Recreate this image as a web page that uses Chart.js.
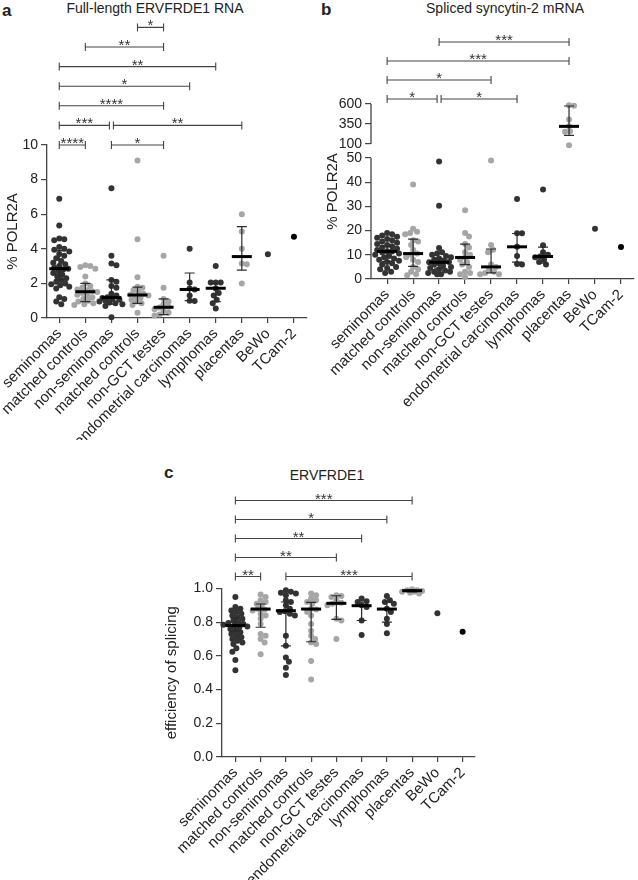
<!DOCTYPE html>
<html>
<head>
<meta charset="utf-8">
<script src="https://cdn.jsdelivr.net/npm/chart.js@4.4.1/dist/chart.umd.min.js"></script>
<style>
  body { margin: 0; width: 638px; height: 880px; background: #fff; position: relative; overflow: hidden;
         font-family: 'Liberation Sans', Arial, sans-serif; color: #222; }
  canvas, .lbl { position: absolute; }
  .letter { font-weight: bold; font-size: 17px; line-height: 20px; }
  .title { font-size: 14px; line-height: 16px; width: 300px; text-align: center; }
</style>
</head>
<body>
<div class="lbl letter" style="left:2px; top:1px;">a</div>
<div class="lbl title" style="left:5px; top:0px;">Full-length ERVFRDE1 RNA</div>
<div class="lbl letter" style="left:321px; top:0px;">b</div>
<div class="lbl title" style="left:355px; top:0px;">Spliced syncytin-2 mRNA</div>
<div class="lbl letter" style="left:164px; top:463px;">c</div>
<div class="lbl title" style="left:177px; top:467px;">ERVFRDE1</div>

<canvas id="chart_a" width="320" height="440" style="left:0; top:0;"></canvas>
<canvas id="chart_b" width="318" height="440" style="left:320px; top:0;"></canvas>
<canvas id="chart_c" width="330" height="440" style="left:150px; top:440px;"></canvas>

<script>
var categories = ['seminomas', 'matched controls', 'non-seminomas', 'matched controls', 'non-GCT testes',
                  'endometrial carcinomas', 'lymphomas', 'placentas', 'BeWo', 'TCam-2'];

// a - full-length ERVFRDE1 RNA (% POLR2A)
var fullPoints = [
  [6.9, 5.35, 4.6, 4.55, 4.5, 4.1, 4.0, 3.95, 3.85, 3.7, 3.6, 3.45, 3.3, 3.2, 3.1, 3.0, 2.9, 2.85, 2.8, 2.7,
   2.6, 2.5, 2.4, 2.3, 2.2, 2.1, 2.0, 1.95, 1.9, 1.8, 1.7, 1.2, 1.1, 0.95, 0.8],
  [3.05, 3.0, 2.95, 2.85, 2.4, 2.0, 1.85, 1.75, 1.65, 1.6, 1.55, 1.5, 1.45, 1.35, 1.3, 1.2, 1.1, 1.0, 0.95, 0.85, 0.8, 0.75],
  [7.5, 3.6, 3.15, 3.05, 2.2, 2.1, 1.85, 1.75, 1.4, 1.3, 1.2, 1.15, 1.1, 1.05, 1.0, 0.95, 0.9, 0.85, 0.8, 0.7, 0.05],
  [9.1, 4.55, 2.35, 1.8, 1.75, 1.6, 1.5, 1.4, 1.35, 1.3, 1.25, 1.15, 1.05, 0.95, 0.85, 0.75, 0.3],
  [3.6, 1.75, 1.1, 0.95, 0.8, 0.65, 0.6, 0.5, 0.4, 0.3, 0.2, 0.15],
  [4.0, 2.05, 1.7, 1.65, 1.3, 1.0, 0.98],
  [3.0, 2.05, 2.05, 2.05, 1.7, 1.45, 1.3, 1.05, 0.85, 0.55],
  [6.0, 5.0, 4.0, 3.15, 3.1, 2.0],
  [3.68],
  [4.7]
];
var fullMedian = [2.85, 1.52, 1.18, 1.33, 0.62, 1.65, 1.72, 3.55, null, null];
var fullLow = [2.2, 0.95, 0.8, 0.85, 0.2, 1.0, 0.95, 2.77, null, null];
var fullHigh = [3.9, 2.0, 2.2, 1.78, 1.1, 2.6, 2.0, 5.28, null, null];
var fullTicks = [0, 2, 4, 6, 8, 10];
// [from group, to group, row above the axis, stars]
var fullBrackets = [[0, 1, 0, '****'], [2, 4, 0, '*'], [0, 2, 1, '***'], [2, 7, 1, '**'], [0, 4, 2, '****'],
                    [0, 5, 3, '*'], [0, 6, 4, '**'], [1, 4, 5, '**'], [3, 4, 6, '*']];

// b - spliced syncytin-2 mRNA (% POLR2A), broken axis
var splicedPoints = [
  [19, 18.5, 18, 17.5, 17, 16.5, 16, 15.5, 15, 14.5, 14, 13.5, 13, 12.5, 12, 11.5, 11.4, 11, 10.5, 10,
   9.5, 9, 8.5, 8, 7.5, 7, 6.5, 6, 5, 4.5, 4, 3, 2.5],
  [39, 20.8, 19.5, 19, 18.5, 16, 15.5, 14, 12, 10.5, 10, 9, 8, 7, 5, 4, 3, 2, 1.5],
  [48.5, 30.3, 12.8, 11, 10.5, 10, 9.5, 9, 8.5, 8, 7.5, 7, 6.9, 6.5, 6, 5.5, 5, 4.5, 4, 3.5, 3, 3, 2.5, 2, 2],
  [28.4, 19, 17.6, 14.5, 13, 11, 10, 8.9, 8, 7, 6, 5, 3, 2.5, 2, 0.8],
  [49, 14, 12.1, 11, 6, 5, 4, 3, 2.5, 2, 2],
  [33, 18.9, 18.9, 13.3, 9.5, 6.2, 6.0],
  [37, 13.9, 11, 10, 9.3, 9, 8, 7, 6],
  [585, 578, 405, 320, 258, 252, 95],
  [20.8],
  [13.2]
];
var splicedMedian = [11.4, 10.5, 6.9, 8.9, 5.0, 13.3, 9.3, 320, null, null];
var splicedLow = [7.3, 5.2, 4.5, 5.9, 2.5, 7.0, 6.5, 207, null, null];
var splicedHigh = [13.5, 16.5, 8.5, 14.4, 12.4, 18.8, 13.2, 575, null, null];
var splicedTicks = [0, 10, 20, 30, 40, 50, 100, 350, 600];
var splicedBrackets = [[0, 2, 0, '*'], [2, 5, 0, '*'], [0, 4, 1, '*'], [0, 7, 2, '***'], [2, 7, 3, '***']];

// c - efficiency of splicing
var effPoints = [
  [0.95, 0.89, 0.88, 0.87, 0.86, 0.85, 0.84, 0.83, 0.82, 0.81, 0.80, 0.795, 0.79, 0.785, 0.78, 0.775, 0.77,
   0.76, 0.75, 0.74, 0.73, 0.72, 0.71, 0.70, 0.69, 0.68, 0.67, 0.645, 0.625, 0.575, 0.515],
  [0.965, 0.95, 0.93, 0.92, 0.91, 0.90, 0.88, 0.875, 0.87, 0.85, 0.84, 0.82, 0.79, 0.73, 0.72, 0.70, 0.68, 0.61],
  [0.99, 0.98, 0.975, 0.97, 0.96, 0.93, 0.92, 0.90, 0.88, 0.865, 0.86, 0.85, 0.84, 0.72, 0.66, 0.59, 0.565, 0.53, 0.487],
  [0.97, 0.96, 0.94, 0.93, 0.92, 0.91, 0.88, 0.875, 0.86, 0.84, 0.79, 0.75, 0.72, 0.70, 0.68, 0.67, 0.57, 0.46],
  [0.96, 0.955, 0.95, 0.93, 0.915, 0.91, 0.90, 0.82, 0.81, 0.70],
  [0.94, 0.925, 0.92, 0.90, 0.89, 0.81, 0.724],
  [0.955, 0.93, 0.92, 0.91, 0.88, 0.86, 0.82, 0.79, 0.734],
  [0.995, 0.99, 0.99, 0.985, 0.98, 0.98, 0.975, 0.97],
  [0.853],
  [0.744]
];
var effMedian = [0.78, 0.878, 0.868, 0.878, 0.912, 0.898, 0.878, 0.987, null, null];
var effLow = [0.745, 0.77, 0.659, 0.684, 0.817, 0.81, 0.80, 0.98, null, null];
var effHigh = [0.825, 0.908, 0.92, 0.918, 0.957, 0.92, 0.92, 0.992, null, null];
var effTicks = [0, 0.2, 0.4, 0.6, 0.8, 1.0];
var effBrackets = [[0, 1, 0, '**'], [2, 7, 0, '***'], [0, 4, 1, '**'], [0, 5, 2, '**'], [0, 6, 3, '*'], [0, 7, 4, '***']];

var DARK = '#333333', LIGHT = '#a6a6a6';
var groupColors = [DARK, LIGHT, DARK, LIGHT, LIGHT, DARK, DARK, LIGHT, DARK, '#000000'];
var AXIS = '#444444';

Chart.defaults.font.family = "'Liberation Sans', Arial, sans-serif";
Chart.defaults.color = '#222';

// axis break for panel b: 0-50 linear, 100-600 squeezed
function squash(v) {
  if (v <= 50) return v;
  if (v < 100) return 50 + 5.8 * (v - 50) / 50;
  return 55.8 + (v - 100) * 0.033;
}

class BrokenScale extends Chart.LinearScale {
  getPixelForValue(value) {
    return this.getPixelForDecimal(squash(value) / squash(this.max));
  }
}
BrokenScale.id = 'broken';
BrokenScale.defaults = {};
Chart.register(BrokenScale);

// compact beeswarm: x offsets (category units), kept within +-maxOff px,
// dots are allowed to overlap once there is no more room
function swarm(vals, toPx, pxPerX, gap, maxOff) {
  var placed = [], offs = [];
  var order = vals.map(function(v, i) { return i; });
  order.sort(function(a, b) { return vals[b] - vals[a]; });
  order.forEach(function(i) {
    var py = toPx(vals[i]), best = 0, bestD = -1;
    for (var k = 0; k < 100; k++) {
      var dx = (k % 2 ? 1 : -1) * Math.ceil(k / 2);
      if (Math.abs(dx) > maxOff) break;
      var d = Infinity;
      placed.forEach(function(p) {
        d = Math.min(d, Math.sqrt((p[0] - dx) * (p[0] - dx) + (p[1] - py) * (p[1] - py)));
      });
      if (d >= gap) { best = dx; break; }
      if (d > bestD + 0.5) { bestD = d; best = dx; }
    }
    placed.push([best, py]);
    offs[i] = best / pxPerX;
  });
  return offs;
}

var extrasPlugin = {
  id: 'extras',
  afterDatasetsDraw: function(chart, args, opts) {
    var ctx = chart.ctx, xs = chart.scales.x, ys = chart.scales.y, area = chart.chartArea;
    ctx.save();

    // broken y axis line
    if (opts.segments) {
      ctx.strokeStyle = AXIS;
      ctx.lineWidth = 1.3;
      ctx.beginPath();
      opts.segments.forEach(function(s) {
        ctx.moveTo(area.left, ys.getPixelForValue(s[0]));
        ctx.lineTo(area.left, ys.getPixelForValue(s[1]));
      });
      ctx.stroke();
    }

    // error bars + median
    opts.medians.forEach(function(m, i) {
      if (m == null) return;
      var px = xs.getPixelForValue(i);
      var lo = ys.getPixelForValue(opts.low[i]), hi = ys.getPixelForValue(opts.high[i]);
      ctx.strokeStyle = '#2b2b2b';
      ctx.lineWidth = 1.2;
      ctx.beginPath();
      ctx.moveTo(px, lo); ctx.lineTo(px, hi);
      ctx.moveTo(px - 5, lo); ctx.lineTo(px + 5, lo);
      ctx.moveTo(px - 5, hi); ctx.lineTo(px + 5, hi);
      ctx.stroke();
      var pm = ys.getPixelForValue(m);
      ctx.strokeStyle = '#000';
      ctx.lineWidth = 3;
      ctx.beginPath();
      ctx.moveTo(px - 10, pm); ctx.lineTo(px + 10, pm);
      ctx.stroke();
    });

    // significance brackets
    ctx.strokeStyle = '#444';
    ctx.fillStyle = '#333';
    ctx.lineWidth = 1.1;
    ctx.font = "15px 'Liberation Sans', Arial, sans-serif";
    ctx.textAlign = 'center';
    ctx.textBaseline = 'alphabetic';
    opts.brackets.forEach(function(b) {
      var shareL = opts.brackets.some(function(o) { return o !== b && o[2] === b[2] && o[1] === b[0]; });
      var shareR = opts.brackets.some(function(o) { return o !== b && o[2] === b[2] && o[0] === b[1]; });
      var x1 = xs.getPixelForValue(b[0]) + (shareL ? 2 : 0);
      var x2 = xs.getPixelForValue(b[1]) - (shareR ? 2 : 0);
      var y = area.top - opts.base - b[2] * opts.step;
      ctx.beginPath();
      ctx.moveTo(x1, y); ctx.lineTo(x2, y);
      ctx.moveTo(x1, y - 4); ctx.lineTo(x1, y + 4);
      ctx.moveTo(x2, y - 4); ctx.lineTo(x2, y + 4);
      ctx.stroke();
      ctx.fillText(b[3], (x1 + x2) / 2, y + 3);
    });
    ctx.restore();
  }
};

function makeChart(canvasId, cfg) {
  var datasets = cfg.points.map(function(vals, i) {
    var offs = swarm(vals, cfg.toPx, cfg.pxPerX, 5, 12);
    return {
      data: vals.map(function(v, k) { return {x: i + offs[k], y: v}; }),
      pointRadius: 3,
      pointBackgroundColor: groupColors[i],
      pointBorderColor: groupColors[i],
      pointBorderWidth: 0,
      clip: false
    };
  });

  return new Chart(document.getElementById(canvasId).getContext('2d'), {
    type: 'scatter',
    data: {datasets: datasets},
    options: {
      responsive: false,
      animation: false,
      events: [],
      layout: {padding: cfg.padding},
      plugins: {
        legend: {display: false},
        tooltip: {enabled: false},
        extras: {
          medians: cfg.medians, low: cfg.low, high: cfg.high,
          brackets: cfg.brackets, base: cfg.base, step: cfg.step, segments: cfg.segments
        }
      },
      scales: {
        x: {
          type: 'linear',
          min: cfg.xMin,
          max: cfg.xMax,
          afterBuildTicks: function(scale) {
            scale.ticks = categories.map(function(c, i) { return {value: i}; });
          },
          afterFit: function(scale) { scale.height = cfg.xHeight; },
          ticks: {
            autoSkip: false, minRotation: 45, maxRotation: 45, padding: 2,
            font: {size: 15},
            callback: function(v) { return categories[v]; }
          },
          grid: {drawOnChartArea: false, tickLength: 5, color: AXIS, lineWidth: 1.2},
          border: {color: AXIS, width: 1.3}
        },
        y: {
          type: cfg.yType,
          min: 0,
          max: cfg.yMax,
          afterBuildTicks: function(scale) {
            scale.ticks = cfg.yTicks.map(function(v) { return {value: v}; });
          },
          afterFit: function(scale) { scale.width = cfg.yWidth; },
          title: {display: true, text: cfg.yTitle, font: {size: 15}, color: '#222'},
          ticks: {font: {size: 14}, padding: 3, callback: cfg.yFormat},
          grid: {drawOnChartArea: false, tickLength: 6, color: AXIS, lineWidth: 1.2},
          border: {display: !cfg.segments, color: AXIS, width: 1.3}
        }
      }
    },
    plugins: [extrasPlugin]
  });
}

makeChart('chart_a', {
  points: fullPoints, medians: fullMedian, low: fullLow, high: fullHigh, brackets: fullBrackets,
  yTicks: fullTicks, yMax: 10, yType: 'linear', yTitle: '% POLR2A',
  yFormat: function(v) { return String(v); },
  toPx: function(v) { return v * 17.3; }, pxPerX: 26.1,
  xMin: -0.47, xMax: 9.5, padding: {top: 145, right: 13, left: 0, bottom: 0},
  yWidth: 47, xHeight: 122, base: 0, step: 19.6
});

makeChart('chart_b', {
  points: splicedPoints, medians: splicedMedian, low: splicedLow, high: splicedHigh, brackets: splicedBrackets,
  yTicks: splicedTicks, yMax: 600, yType: 'broken', yTitle: '% POLR2A',
  yFormat: function(v) { return String(v); },
  toPx: function(v) { return squash(v) * 2.42; }, pxPerX: 26.2,
  xMin: -0.62, xMax: 9.5, padding: {top: 104, right: 1, left: 0, bottom: 0},
  yWidth: 51, xHeight: 161, base: 5, step: 19, segments: [[0, 50], [100, 600]]
});

makeChart('chart_c', {
  points: effPoints, medians: effMedian, low: effLow, high: effHigh, brackets: effBrackets,
  yTicks: effTicks, yMax: 1.0, yType: 'linear', yTitle: 'efficiency of splicing',
  yFormat: function(v) { return v.toFixed(1); },
  toPx: function(v) { return v * 168.5; }, pxPerX: 25.3,
  xMin: -0.53, xMax: 9.49, padding: {top: 148.5, right: 5, left: 9, bottom: 0},
  yWidth: 63, xHeight: 123, base: 12, step: 19
});
</script>
</body>
</html>
